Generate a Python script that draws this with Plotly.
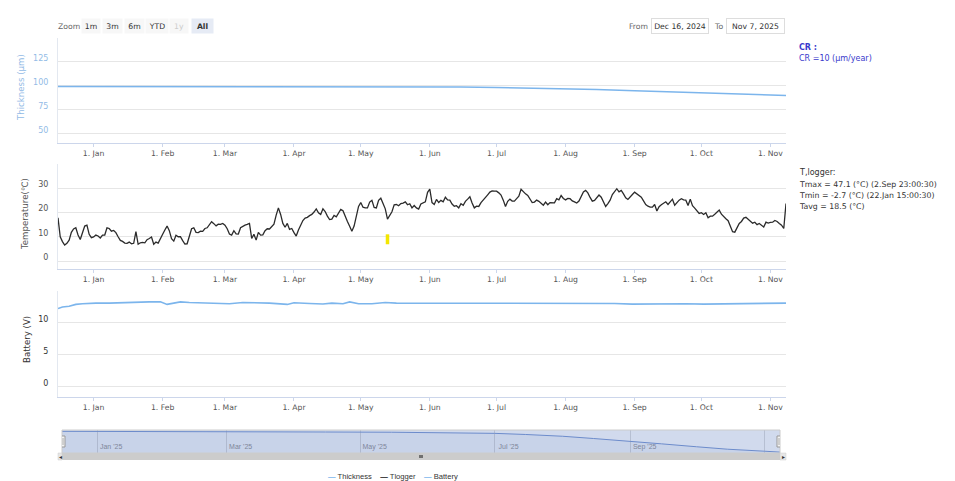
import pandas as pd
import plotly.graph_objects as go

W, H = 955, 481
START, END = "2024-12-16", "2025-11-08"

# Logger temperature (°C), one value per day starting 16 Dec 2024
tlogger = [
    17.8, 10.0, 8.0, 6.6, 7.3, 8.6, 11.8, 13.2, 13.7, 10.7,
    8.9, 12.1, 14.4, 14.8, 11.0, 9.6, 9.9, 10.7, 10.3, 9.5,
    10.7, 10.7, 13.7, 13.4, 12.3, 12.6, 11.7, 10.0, 8.5, 8.1,
    7.4, 7.3, 7.8, 7.1, 7.3, 12.1, 6.9, 7.5, 7.7, 7.5,
    8.8, 9.3, 9.9, 6.9, 7.8, 7.4, 9.6, 11.0, 12.8, 14.4,
    12.5, 9.2, 8.2, 10.6, 10.0, 10.0, 8.4, 7.0, 7.1, 10.0,
    13.3, 13.7, 11.8, 11.7, 12.3, 12.2, 13.4, 13.7, 15.1, 16.2,
    15.4, 14.5, 15.2, 15.1, 15.5, 14.8, 13.3, 11.1, 10.7, 12.5,
    11.2, 11.1, 13.7, 14.3, 14.8, 15.1, 15.5, 9.3, 11.0, 8.6,
    11.8, 10.7, 10.8, 12.5, 13.3, 13.2, 14.3, 15.2, 18.9, 21.9,
    19.2, 15.5, 13.9, 15.5, 13.0, 13.4, 11.7, 10.3, 12.8, 14.8,
    16.7, 17.7, 18.0, 18.7, 19.2, 20.2, 21.5, 19.9, 19.2, 21.5,
    20.4, 18.5, 17.1, 17.3, 18.8, 18.2, 19.6, 21.3, 20.7, 18.1,
    16.3, 14.3, 12.3, 14.4, 18.2, 22.5, 24.1, 22.2, 21.9, 21.9,
    24.3, 25.0, 22.1, 21.9, 25.0, 25.9, 23.7, 21.5, 17.3, 18.7,
    20.3, 23.2, 23.3, 22.8, 23.7, 23.9, 24.4, 23.2, 23.6, 21.9,
    22.9, 21.9, 21.4, 23.5, 24.0, 24.4, 28.3, 29.6, 24.1, 23.3,
    25.4, 24.1, 25.0, 24.4, 26.3, 25.2, 25.1, 23.5, 22.6, 22.8,
    21.9, 23.6, 23.0, 24.6, 25.5, 26.5, 23.9, 21.9, 22.6, 22.5,
    24.1, 25.1, 25.9, 27.3, 28.4, 28.9, 28.8, 28.8, 28.1, 27.2,
    25.1, 22.5, 24.6, 25.5, 24.7, 24.7, 25.7, 26.7, 29.6, 28.5,
    27.7, 27.0, 25.4, 24.1, 24.3, 25.1, 24.6, 23.7, 23.0, 24.3,
    23.2, 24.1, 24.0, 24.0, 25.7, 25.2, 27.0, 25.8, 25.2, 25.8,
    25.7, 24.8, 24.4, 23.9, 24.7, 27.0, 28.5, 29.1, 28.1, 26.2,
    24.7, 25.0, 26.3, 27.2, 26.3, 24.1, 22.5, 23.7, 25.1, 27.4,
    28.7, 29.8, 28.5, 29.1, 27.7, 26.1, 25.4, 26.2, 27.4, 28.4,
    27.8, 27.2, 26.3, 24.8, 23.3, 22.6, 22.2, 22.2, 23.3, 20.6,
    22.4, 23.2, 24.0, 24.4, 23.3, 24.6, 25.5, 23.0, 24.3, 25.1,
    25.7, 25.2, 25.1, 22.9, 25.5, 22.8, 21.8, 20.9, 19.6, 19.9,
    19.2, 19.9, 17.8, 18.5, 18.5, 19.3, 20.2, 21.0, 19.3, 18.1,
    17.4, 16.6, 14.7, 12.1, 11.9, 14.0, 15.5, 16.3, 17.7, 18.0,
    17.1, 16.5, 15.6, 16.0, 15.0, 15.5, 14.8, 14.0, 16.0, 15.6,
    15.9, 16.0, 16.7, 16.3, 15.5, 14.8, 13.4, 23.7,
]
tlogger_dates = pd.date_range(START, periods=len(tlogger), freq="D")

# Remaining wall thickness (µm)
thickness_dates = [
    "2024-12-16", "2025-01-15", "2025-02-15", "2025-03-15", "2025-04-15",
    "2025-05-15", "2025-06-15", "2025-07-01", "2025-07-15", "2025-08-01",
    "2025-08-15", "2025-09-01", "2025-09-15", "2025-10-01", "2025-10-15",
    "2025-11-01", "2025-11-08",
]
thickness_um = [
    99.4, 99.4, 99.3, 99.2, 99.1, 99.0, 98.8, 98.5, 98.0, 97.2,
    96.2, 95.0, 93.8, 92.5, 91.4, 90.5, 90.1,
]

# Logger supply voltage (V)
battery_dates = [
    "2024-12-16", "2024-12-18", "2024-12-21", "2024-12-24", "2024-12-27",
    "2024-12-30", "2025-01-02", "2025-01-08", "2025-01-14", "2025-01-20",
    "2025-01-26", "2025-01-31", "2025-02-03", "2025-02-06", "2025-02-09",
    "2025-02-13", "2025-02-20", "2025-02-28", "2025-03-03", "2025-03-09",
    "2025-03-15", "2025-03-21", "2025-03-29", "2025-04-01", "2025-04-08",
    "2025-04-14", "2025-04-18", "2025-04-23", "2025-04-26", "2025-04-30",
    "2025-05-06", "2025-05-12", "2025-05-17", "2025-05-22", "2025-05-28",
    "2025-06-05", "2025-06-12", "2025-06-20", "2025-06-28", "2025-07-06",
    "2025-07-14", "2025-07-22", "2025-07-30", "2025-08-07", "2025-08-15",
    "2025-08-23", "2025-08-31", "2025-09-08", "2025-09-16", "2025-09-24",
    "2025-10-02", "2025-10-10", "2025-10-18", "2025-10-26", "2025-11-03",
    "2025-11-08",
]
battery_v = [
    12.25, 12.5, 12.6, 12.9, 13.0,
    13.1, 13.1, 13.1, 13.2, 13.3,
    13.3, 13.3, 12.9, 13.1, 13.3,
    13.2, 13.1, 13.07, 13.0, 13.2,
    13.2, 13.1, 12.9, 13.15, 13.05,
    12.97, 13.1, 13.0, 13.3, 13.0,
    13.0, 13.2, 13.1, 13.1, 13.1,
    13.0, 13.1, 13.05, 13.1, 13.0,
    13.05, 13.0, 13.05, 13.0, 13.0,
    13.05, 12.95, 13.0, 13.05, 13.0,
    12.95, 13.0, 13.05, 13.0, 13.05,
    13.1,
]

# Flagged logger event (°C span)
event_date = "2025-05-13"
event_span = [6.9, 11.0]

# Logger statistics over the full record
t_stats = [
    "Tmax = 47.1 (°C) (2.Sep 23:00:30)",
    "Tmin = -2.7 (°C) (22.Jan 15:00:30)",
    "Tavg = 18.5 (°C)",
]
cr_rate = 10  # µm/year

FONT = "DejaVu Sans"
NARROW = "Liberation Sans Narrow, Liberation Sans, Arial"
BLUE = "#7cb5ec"
GRID = "#e6e6e6"
AXIS = "#ccd6eb"


def px(x):
    return x / W


def py(y):
    return 1 - y / H


def label(x, y, text, size=7.7, color="#333", xanchor="center", **kw):
    return dict(x=px(x), y=py(y), text=text, showarrow=False, xref="paper", yref="paper",
                xanchor=xanchor, yanchor="middle", font=dict(size=size, color=color), **kw)


fig = go.Figure()

fig.add_trace(go.Scatter(x=thickness_dates, y=thickness_um, mode="lines",
                         line=dict(color=BLUE, width=1.5), name="Thickness",
                         xaxis="x", yaxis="y"))
fig.add_trace(go.Scatter(x=tlogger_dates, y=tlogger, mode="lines",
                         line=dict(color="#2b2b2b", width=1.3), name="Tlogger",
                         xaxis="x2", yaxis="y2"))
fig.add_trace(go.Scatter(x=[event_date, event_date], y=event_span, mode="lines",
                         line=dict(color="#f3e600", width=3.5), showlegend=False,
                         xaxis="x2", yaxis="y2", hoverinfo="skip"))
fig.add_trace(go.Scatter(x=battery_dates, y=battery_v, mode="lines",
                         line=dict(color=BLUE, width=1.6), name="Battery",
                         xaxis="x3", yaxis="y3"))
# navigator series
fig.add_trace(go.Scatter(x=thickness_dates, y=thickness_um, mode="lines",
                         line=dict(color="#6f8fcf", width=1), fill="tozeroy",
                         fillcolor="rgba(51,92,173,0.06)", showlegend=False,
                         xaxis="x4", yaxis="y4", hoverinfo="skip"))

xdom = [px(58), px(786)]
xcommon = dict(
    domain=xdom, range=[START, END], type="date",
    tick0="2025-01-01", dtick="M1", tickformat="%-d. %b",
    showgrid=False, showline=True, linecolor=AXIS, linewidth=1,
    ticks="outside", ticklen=3, tickcolor=AXIS,
    tickfont=dict(size=7.7, color="#555", family=FONT),
    zeroline=False,
)
ycommon = dict(
    showgrid=True, gridcolor=GRID, gridwidth=1, zeroline=False,
    showline=True, linecolor="#e3e8f0", ticks="",
    ticklabelstandoff=7, ticklabelshift=-4,
)

fig.update_layout(
    width=W, height=H, margin=dict(l=0, r=0, t=0, b=0),
    paper_bgcolor="white", plot_bgcolor="white",
    showlegend=False,
    font=dict(family=FONT, size=8, color="#333"),
    xaxis=dict(anchor="y", **xcommon),
    xaxis2=dict(anchor="y2", matches="x", **xcommon),
    xaxis3=dict(anchor="y3", matches="x", **xcommon),
    yaxis=dict(anchor="x", domain=[py(143), py(38)], range=[40.5, 150],
               tickvals=[50, 75, 100, 125, 150], ticktext=["50", "75", "100", "125", ""],
               tickfont=dict(size=8, color="#93bbe6"), **ycommon),
    yaxis2=dict(anchor="x2", domain=[py(269), py(164)], range=[-3.3, 40],
                tickvals=[0, 10, 20, 30, 40], ticktext=["0", "10", "20", "30", ""],
                tickfont=dict(size=8, color="#555"), **ycommon),
    yaxis3=dict(anchor="x3", domain=[py(397), py(291)], range=[-1.6, 15],
                tickvals=[0, 5, 10, 15], ticktext=["0", "5", "10", ""],
                tickfont=dict(size=8, color="#333"), **ycommon),
    xaxis4=dict(anchor="y4", domain=[px(62), px(780)], range=[START, END], type="date",
                tick0="2025-01-01", dtick="M2", tickformat="%b '%y",
                showgrid=True, gridcolor="#d8d8d8", showline=False, zeroline=False,
                ticks="", ticklabelposition="inside", ticklabelshift=14,
                tickfont=dict(size=7, color="#888", family=NARROW)),
    yaxis4=dict(anchor="x4", domain=[py(453), py(430)],
                range=[min(thickness_um) - 0.4, max(thickness_um) + 0.6],
                visible=False, showgrid=False, zeroline=False),
)

shapes = []
# navigator mask and outline
shapes.append(dict(type="rect", xref="x4 domain", yref="y4 domain", x0=0, x1=1, y0=0, y1=1,
                   fillcolor="rgba(102,133,194,0.3)", line=dict(width=0), layer="above"))
shapes.append(dict(type="rect", xref="paper", yref="paper", x0=px(62), x1=px(780),
                   y0=py(453), y1=py(430), line=dict(color="#cccccc", width=1)))
# navigator handles
for edge in (START, END):
    shapes.append(dict(type="rect", xref="x4", yref="paper", xsizemode="pixel",
                       xanchor=edge, x0=-3, x1=3, y0=py(447), y1=py(436),
                       fillcolor="#f2f2f2", line=dict(color="#999999", width=1)))
    for off in (-1, 1):
        shapes.append(dict(type="line", xref="x4", yref="paper", xsizemode="pixel",
                           xanchor=edge, x0=off, x1=off, y0=py(445), y1=py(438),
                           line=dict(color="#999999", width=0.8)))
# scrollbar
shapes.append(dict(type="rect", xref="paper", yref="paper", x0=px(58), x1=px(786),
                   y0=py(460), y1=py(453), fillcolor="#f2f2f2", line=dict(width=0)))
shapes.append(dict(type="rect", xref="paper", yref="paper", x0=px(62), x1=px(780),
                   y0=py(460), y1=py(453), fillcolor="#cccccc", line=dict(width=0)))
for a, b in ((58, 62), (780, 786)):
    shapes.append(dict(type="rect", xref="paper", yref="paper", x0=px(a), x1=px(b),
                       y0=py(460), y1=py(453), fillcolor="#e6e6e6",
                       line=dict(color="#cccccc", width=0.5)))
for yy in (455.5, 456.5, 457.5):
    shapes.append(dict(type="line", xref="paper", yref="paper", x0=px(419), x1=px(423),
                       y0=py(yy), y1=py(yy), line=dict(color="#333", width=0.6)))
fig.update_layout(shapes=shapes)

ann = []
# range selector
ann.append(label(69, 26, "Zoom", color="#666"))
buttons = [("1m", 91, 16), ("3m", 112, 17), ("6m", 134, 17), ("YTD", 157, 20),
           ("1y", 179, 16), ("All", 202, 19)]
for text, cx, w in buttons:
    if text == "All":
        ann.append(label(cx, 26, f"<b>{text}</b>", width=w, height=12, bgcolor="#e6ebf5"))
    elif text == "1y":
        ann.append(label(cx, 26, text, color="#cccccc", width=w, height=12, bgcolor="#f7f7f7"))
    else:
        ann.append(label(cx, 26, text, width=w, height=12, bgcolor="#f7f7f7"))
# date inputs
ann.append(label(638, 26, "From", color="#666"))
ann.append(label(680, 26, "Dec 16, 2024", width=54, height=12, bordercolor="#dddddd",
                 borderwidth=1, bgcolor="white"))
ann.append(label(718, 26, "To", color="#666"))
ann.append(label(755, 26, "Nov 7, 2025", width=55, height=12, bordercolor="#dddddd",
                 borderwidth=1, bgcolor="white"))
# axis titles
for text, cx, cy, color in (("Thickness (µm)", 21, 88, "#93bbe6"),
                            ("Temperature(℃)", 25, 214, "#555"),
                            ("Battery (V)", 27, 340, "#333")):
    ann.append(label(cx, cy, text, size=8.6, color=color, textangle=-90))
# corrosion rate box
ann.append(label(797, 47, "<b>CR :</b>", size=8, color="#3a3acc", xanchor="left"))
ann.append(label(797, 58, f"CR ={cr_rate} (µm/year)", size=8, color="#3a3acc", xanchor="left"))
# logger statistics
ann.append(label(797, 173, "T,logger:", size=8, xanchor="left"))
for i, line in enumerate(t_stats):
    ann.append(label(797, 184 + 11 * i, line, size=7.8, xanchor="left"))
# scrollbar arrows
ann.append(label(60, 456.5, "◂", size=6))
ann.append(label(783, 456.5, "▸", size=6))
# legend
legend_html = (
    f'<span style="color:{BLUE}"><b>—</b></span> Thickness    '
    '<span style="color:#111111"><b>—</b></span> Tlogger    '
    f'<span style="color:{BLUE}"><b>—</b></span> Battery'
)
leg = label(393, 476, legend_html, size=7.6)
leg["font"]["family"] = NARROW
ann.append(leg)
fig.update_layout(annotations=ann)

fig.write_html("out.html")
